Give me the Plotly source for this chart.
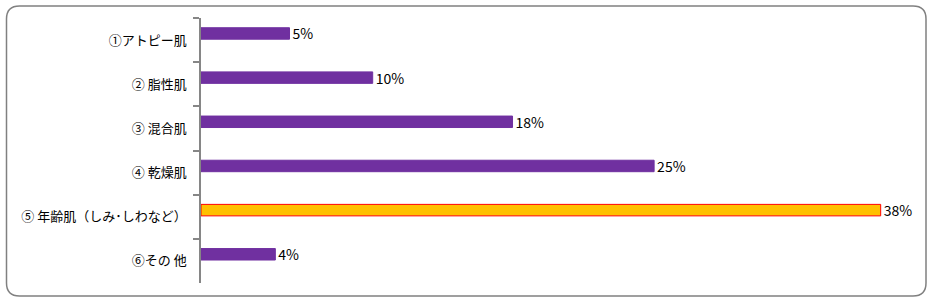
import plotly.graph_objects as go

categories = ["①アトピー肌", "② 脂性肌", "③ 混合肌", "④ 乾燥肌", "⑤ 年齢肌（しみ･しわなど）", "⑥その 他"]
values = [5.0, 9.7, 17.6, 25.6, 38.4, 4.2]
labels = ["5%", "10%", "18%", "25%", "38%", "4%"]
fill_colors = ["#7030A0", "#7030A0", "#7030A0", "#7030A0", "#FFC000", "#7030A0"]
line_colors = ["#7030A0", "#7030A0", "#7030A0", "#7030A0", "#FF0000", "#7030A0"]

W, H = 934, 302
L, R, T, B = 201, 909, 18, 283

fig = go.Figure(go.Bar(
    x=values, y=categories, orientation="h",
    width=0.26, offset=-0.28,
    marker=dict(color=fill_colors, line=dict(color=line_colors, width=1)),
    text=labels, textposition="outside", cliponaxis=False, constraintext="none",
    textfont=dict(family="Noto Sans CJK JP", size=14, color="black"),
    hoverinfo="skip",
))

def px(x):
    return (x - L) / (R - L)

def py(y):
    return (B - y) / (B - T)

x0, x1, y0, y1, r = 6.5, 926, 6, 296, 13
path = (f"M {px(x0+r)},{py(y0)} L {px(x1-r)},{py(y0)} "
        f"Q {px(x1)},{py(y0)} {px(x1)},{py(y0+r)} "
        f"L {px(x1)},{py(y1-r)} Q {px(x1)},{py(y1)} {px(x1-r)},{py(y1)} "
        f"L {px(x0+r)},{py(y1)} Q {px(x0)},{py(y1)} {px(x0)},{py(y1-r)} "
        f"L {px(x0)},{py(y0+r)} Q {px(x0)},{py(y0)} {px(x0+r)},{py(y0)} Z")

fig.update_layout(
    width=W, height=H,
    margin=dict(l=L, r=W - R, t=T, b=H - B, pad=0),
    paper_bgcolor="white", plot_bgcolor="white",
    showlegend=False,
    font=dict(family="Noto Sans CJK JP", size=13, color="black"),
    xaxis=dict(range=[0, 40], visible=False, fixedrange=True),
    yaxis=dict(
        autorange="reversed", type="category", tickson="boundaries",
        ticks="outside", ticklen=6, tickcolor="#868686", tickwidth=1.5,
        showline=True, linecolor="#868686", linewidth=1.5,
        showgrid=False, ticklabelstandoff=10,
        tickfont=dict(family="Noto Sans CJK JP", size=13, color="black"),
        fixedrange=True,
    ),
    shapes=[dict(type="path", path=path, xref="paper", yref="paper",
                 line=dict(color="#808080", width=1.5), layer="below")],
)

fig.write_html("out.html")
